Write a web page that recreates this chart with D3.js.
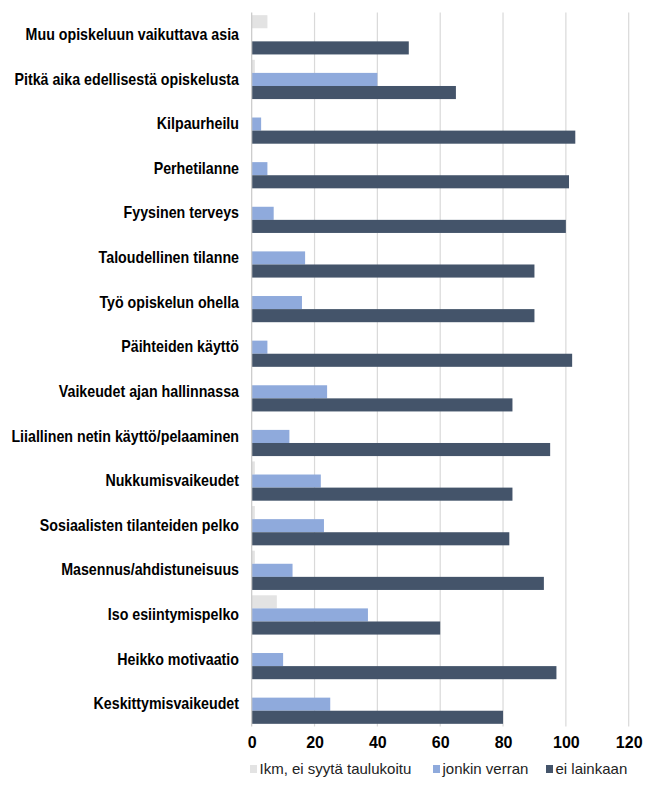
<!DOCTYPE html>
<html>
<head>
<meta charset="utf-8">
<script src="https://cdn.jsdelivr.net/npm/d3@7"></script>
<style>
  html, body { margin: 0; padding: 0; background: #fff; }
  svg { display: block; }
</style>
</head>
<body>
<svg id="chart" width="656" height="793"></svg>
<script>
const categories = [
  "Muu opiskeluun vaikuttava asia",
  "Pitkä aika edellisestä opiskelusta",
  "Kilpaurheilu",
  "Perhetilanne",
  "Fyysinen terveys",
  "Taloudellinen tilanne",
  "Työ opiskelun ohella",
  "Päihteiden käyttö",
  "Vaikeudet ajan hallinnassa",
  "Liiallinen netin käyttö/pelaaminen",
  "Nukkumisvaikeudet",
  "Sosiaalisten tilanteiden pelko",
  "Masennus/ahdistuneisuus",
  "Iso esiintymispelko",
  "Heikko motivaatio",
  "Keskittymisvaikeudet"
];
const seriesNames = ["Ikm, ei syytä taulukoitu", "jonkin verran", "ei lainkaan"];
const ikmValues      = [5, 1, 0, 0, 0, 0, 0, 0, 0, 0, 1, 1, 1, 8, 0, 0];
const jonkinValues   = [0, 40, 3, 5, 7, 17, 16, 5, 24, 12, 22, 23, 13, 37, 10, 25];
const eiValues       = [50, 65, 103, 101, 100, 90, 90, 102, 83, 95, 83, 82, 93, 60, 97, 80];
const xTicks = [0, 20, 40, 60, 80, 100, 120];
const colors = ["#e3e3e3", "#8faadc", "#44546a"];

const seriesValues = [ikmValues, jonkinValues, eiValues];
const rows = categories.map((c, i) => ({
  cat: c,
  vals: seriesNames.map((s, j) => ({ key: s, idx: j, value: seriesValues[j][i] }))
}));

const svg = d3.select("#chart");
const plotLeft = 251.7, plotRight = 628.7, plotTop = 12.5, plotBottom = 726.5;

const x = d3.scaleLinear().domain([0, 120]).range([plotLeft, plotRight]);
const y0 = d3.scaleBand().domain(categories).range([plotTop, plotBottom]).paddingInner(0.12).paddingOuter(0.06);
const y1 = d3.scaleBand().domain(d3.range(3)).range([0, y0.bandwidth()]);

// gridlines
svg.append("g").selectAll("line").data(xTicks.slice(1)).join("line")
  .attr("x1", d => x(d)).attr("x2", d => x(d))
  .attr("y1", plotTop).attr("y2", plotBottom)
  .attr("stroke", "#d9d9d9").attr("stroke-width", 1.2);

// bars
const g = svg.append("g").selectAll("g").data(rows).join("g")
  .attr("transform", d => `translate(0,${y0(d.cat)})`);
g.selectAll("rect").data(d => d.vals).join("rect")
  .attr("x", x(0))
  .attr("y", d => y1(d.idx))
  .attr("width", d => Math.max(0, x(d.value) - x(0)))
  .attr("height", y1.bandwidth())
  .attr("fill", d => colors[d.idx]);

// vertical axis line
svg.append("line")
  .attr("x1", x(0)).attr("x2", x(0)).attr("y1", plotTop).attr("y2", plotBottom)
  .attr("stroke", "#c8c8c8").attr("stroke-width", 1.2);

// category labels
const yAxis = d3.axisLeft(y0).tickSize(0).tickPadding(0);
const ya = svg.append("g").attr("transform", `translate(239,0)`).call(yAxis);
ya.select(".domain").remove();
ya.selectAll("text")
  .attr("font-family", "'Liberation Sans', Arial, sans-serif")
  .attr("font-weight", "bold")
  .attr("font-size", "16px")
  .attr("transform", "scale(0.89,1)")
  .attr("fill", "#000");

// x axis tick labels
const xAxis = d3.axisBottom(x).tickValues(xTicks).tickSize(0).tickPadding(0);
const xa = svg.append("g").attr("transform", `translate(0,737)`).call(xAxis);
xa.select(".domain").remove();
xa.selectAll("text")
  .attr("font-family", "'Liberation Sans', Arial, sans-serif")
  .attr("font-weight", "bold")
  .attr("font-size", "16px")
  .attr("fill", "#000");

// legend
const legendX = [250, 433, 546];
const lg = svg.append("g").selectAll("g").data(seriesNames).join("g")
  .attr("transform", (d, i) => `translate(${legendX[i]},765)`);
lg.append("rect").attr("width", 7).attr("height", 8).attr("fill", (d, i) => colors[i]);
lg.append("text").attr("x", 9.5).attr("y", 4).attr("dy", "0.35em")
  .attr("font-family", "'Liberation Sans', Arial, sans-serif")
  .attr("font-size", "15px")
  .attr("fill", "#222")
  .text(d => d);
</script>
</body>
</html>
